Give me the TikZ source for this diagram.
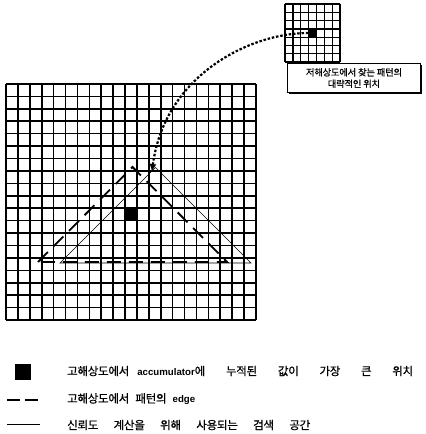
\documentclass[tikz,border=0pt]{standalone}
\usepackage{fontspec}
\setmainfont{Noto Sans CJK KR}
\newfontfamily\korfont[FakeBold=0.8, LetterSpace=-2]{Noto Sans CJK KR}
\newfontfamily\latinfont{Liberation Sans}
\usetikzlibrary{arrows.meta,positioning,shadows}

\newcommand{\latinword}[1]{{\latinfont\bfseries\fontsize{9.7}{12}\selectfont #1}}

\begin{document}
\begin{tikzpicture}[
    x=1bp, y=-1bp,
    font=\korfont\fontsize{9.3}{11.5}\selectfont,
    gridline/.style={line width=1.6bp},
    smallgridline/.style={line width=1.3bp},
    blackcell/.style={fill=black, inner sep=0pt, minimum width=#1, minimum height=#1},
    edgeline/.style={line width=1.8bp, dash pattern=on 14bp off 8bp},
    searchline/.style={line width=0.6bp},
    dotarrow/.style={line width=2.2bp, dash pattern=on 2.5bp off 1.8bp, -{Triangle[width=6bp,length=7bp]}},
    callout/.style={draw, line width=0.6bp, fill=white, align=center, minimum width=133bp, minimum height=29bp, inner sep=1pt,
        drop shadow={shadow xshift=1.6bp, shadow yshift=-1.6bp, fill=black, opacity=1}},
    legendtext/.style={anchor=west, inner sep=0pt, font=\korfont\fontsize{11.5}{13}\selectfont}
]
\useasboundingbox (0,0) rectangle (425,434);

% ---------- High resolution grid ----------
\foreach \i in {0,...,21}
    \draw[gridline] ({6+\i*11.905},84) -- ({6+\i*11.905},320);
\foreach \j in {0,...,19}
    \draw[gridline] (6,{84+\j*12.42}) -- (256,{84+\j*12.42});
\node[blackcell=12bp] (bigcell) at (131.5,215) {};

% ---------- Low resolution grid ----------
\foreach \i in {0,...,7}
    \draw[smallgridline] ({285+\i*7.86},4) -- ({285+\i*7.86},62);
\foreach \j in {0,...,7}
    \draw[smallgridline] (285,{4+\j*8.29}) -- (340,{4+\j*8.29});
\node[blackcell=8bp] (smallcell) at (312.5,33) {};

\node[callout] (lowres) at (354,78) {저해상도에서 찾는 패턴의\\대략적인 위치};

% ---------- Triangles ----------
\coordinate (edgetop) at (132.5,167);
\coordinate (edgeleft) at (38,262);
\coordinate (edgeright) at (227,262);
\draw[edgeline] (edgeleft) -- (edgetop) -- (edgeright) -- (edgeleft);

\coordinate (searchtop) at (155.5,167.5);
\coordinate (searchleft) at (60,263);
\coordinate (searchright) at (251,263);
\draw[searchline] (searchleft) -- (searchtop) -- (searchright) -- cycle;

% low resolution position mapped into the high resolution grid
\coordinate (apex) at (152,171);
\draw[dotarrow] (smallcell.west) .. controls (250,33) and (165,75) .. (apex);

% ---------- Legend ----------
\node[blackcell=16bp] (legsq) at (23,372) {};
\coordinate (legdashA) at (7,400);
\coordinate (legdashB) at (40,400);
\draw[line width=1.8bp, dash pattern=on 13bp off 5bp] (legdashA) -- (legdashB);
\coordinate (legsolidA) at (7,424);
\coordinate (legsolidB) at (40,424);
\draw[searchline] (legsolidA) -- (legsolidB);

\node[legendtext] (legtext1) at (67,371) {\hbox to 346bp{고해상도에서\hspace{8bp}\latinword{accumulator}에\hfill 누적된\hfill 값이\hfill 가장\hfill 큰\hfill 위치}};
\node[legendtext] (legtext2) at (67,399) {\hbox to 128bp{고해상도에서\hfill 패턴의\hfill \latinword{edge}}};
\node[legendtext] (legtext3) at (67,425) {\hbox to 243bp{신뢰도\hfill 계산을\hfill 위해\hfill 사용되는\hfill 검색\hfill 공간}};

\end{tikzpicture}
\end{document}
